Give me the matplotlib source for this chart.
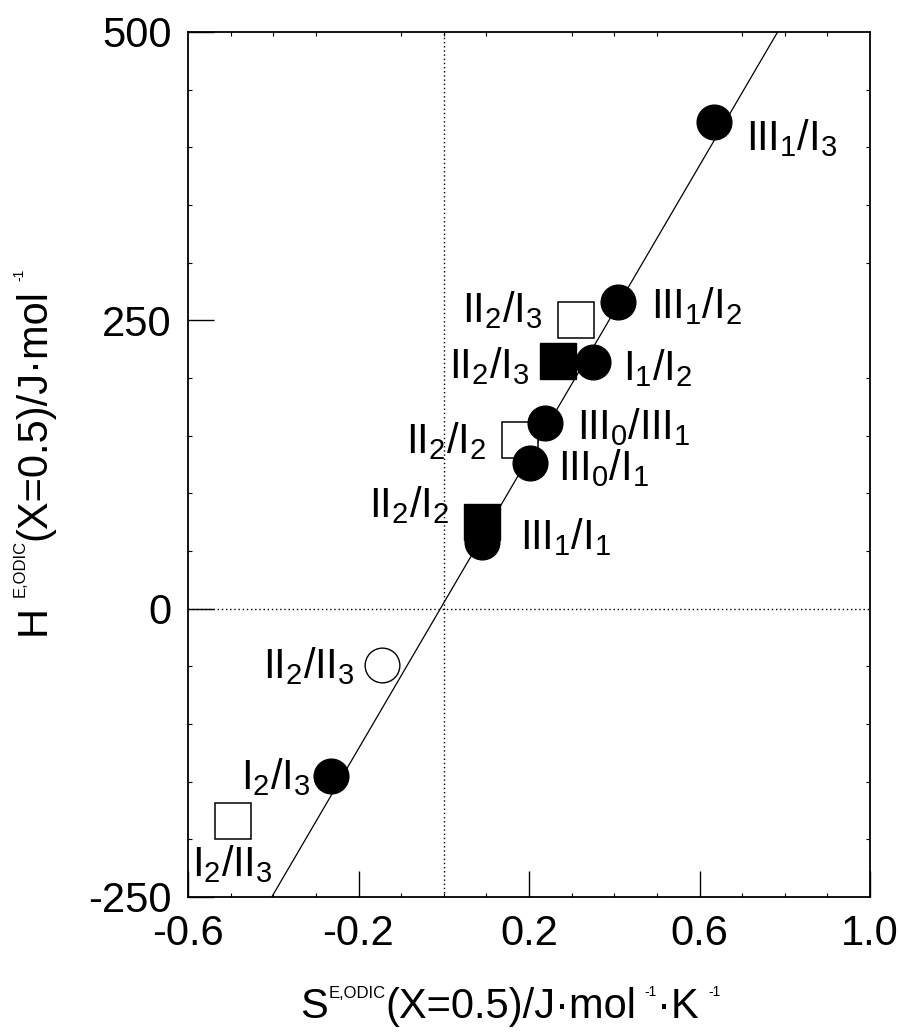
import matplotlib
matplotlib.use('Agg')
import matplotlib.pyplot as plt
from matplotlib.ticker import MultipleLocator
from matplotlib.transforms import IdentityTransform

plt.rcParams['font.family'] = ['Liberation Sans', 'DejaVu Sans']
plt.rcParams['mathtext.fontset'] = 'custom'
plt.rcParams['mathtext.rm'] = 'Liberation Sans'

# Data
fc_labels = [r'III$_\mathregular{1}$/I$_\mathregular{3}$', r'III$_\mathregular{1}$/I$_\mathregular{2}$',
             r'I$_\mathregular{1}$/I$_\mathregular{2}$', r'III$_\mathregular{0}$/III$_\mathregular{1}$',
             r'III$_\mathregular{0}$/I$_\mathregular{1}$', r'III$_\mathregular{1}$/I$_\mathregular{1}$',
             r'I$_\mathregular{2}$/I$_\mathregular{3}$']
fc_x = [0.633, 0.408, 0.350, 0.237, 0.202, 0.089, -0.265]
fc_y = [422, 266, 214, 161, 126, 58, -145]

oc_labels = [r'II$_\mathregular{2}$/II$_\mathregular{3}$']
oc_x = [-0.145]
oc_y = [-49]

os_labels = [r'II$_\mathregular{2}$/I$_\mathregular{3}$', r'II$_\mathregular{2}$/I$_\mathregular{2}$',
             r'I$_\mathregular{2}$/II$_\mathregular{3}$']
os_x = [0.310, 0.178, -0.495]
os_y = [250, 146, -184]

fs_labels = [r'II$_\mathregular{2}$/I$_\mathregular{3}$', r'II$_\mathregular{2}$/I$_\mathregular{2}$']
fs_x = [0.267, 0.089]
fs_y = [215, 75]

fit_slope = 632
fit_intercept = 5

x_ticks = [-0.6, -0.2, 0.2, 0.6, 1.0]
y_ticks = [-250, 0, 250, 500]

# label offsets in pixels (dx, dy, ha)
fc_off = [(32, -28, 'left'), (33, -16, 'left'), (30, -18, 'left'), (32, -16, 'left'),
          (28, -17, 'left'), (38, -7, 'left'), (-20, -13, 'right')]
oc_off = [(-28, -13, 'right')]
os_off = [(-33, -2, 'right'), (-33, -13, 'right'), (0, -55, 'center')]
fs_off = [(-28, -17, 'right'), (-32, 5, 'right')]

W, H = 899, 1032
fig = plt.figure(figsize=(W / 100, H / 100), dpi=100)
ax = fig.add_axes([188 / W, 1 - 897 / H, (870 - 188) / W, (897 - 32) / H])

ax.axvline(0, color='black', ls=(0, (1, 2)), lw=1.0, zorder=1)
ax.axhline(0, color='black', ls=(0, (1, 2)), lw=1.0, zorder=1)

lx = [-0.6, 1.0]
ax.plot(lx, [fit_slope * v + fit_intercept for v in lx], color='black', lw=0.9, zorder=2)

ax.plot(os_x, os_y, 's', ms=26.5, mfc='white', mec='black', mew=1.1, zorder=3)
ax.plot(oc_x, oc_y, 'o', ms=25, mfc='white', mec='black', mew=1.0, zorder=3)
ax.plot(fs_x, fs_y, 's', ms=26, mfc='black', mec='black', zorder=4)
ax.plot(fc_x, fc_y, 'o', ms=25, mfc='black', mec='black', zorder=5)

px2pt = 0.72
for labs, xs, ys, offs in [(fc_labels, fc_x, fc_y, fc_off), (oc_labels, oc_x, oc_y, oc_off),
                           (os_labels, os_x, os_y, os_off), (fs_labels, fs_x, fs_y, fs_off)]:
    for lab, xv, yv, (dx, dy, ha) in zip(labs, xs, ys, offs):
        ax.annotate(lab, xy=(xv, yv), xytext=(dx * px2pt, dy * px2pt), textcoords='offset points',
                    ha=ha, va='baseline', fontsize=30, zorder=6)

ax.set_xlim(-0.6, 1.0)
ax.set_ylim(-250, 500)
ax.set_xticks(x_ticks)
ax.set_xticklabels(['-0.6', '-0.2', '0.2', '0.6', '1.0'])
ax.set_yticks(y_ticks)
ax.set_yticklabels([str(v) for v in y_ticks])
ax.xaxis.set_minor_locator(MultipleLocator(0.1))
ax.yaxis.set_minor_locator(MultipleLocator(50))
ax.tick_params(which='major', direction='in', length=19, width=1.0, labelsize=30)
ax.tick_params(axis='x', which='major', pad=12)
ax.tick_params(axis='y', which='major', pad=12)
ax.tick_params(which='minor', direction='in', length=3, width=0.8, top=True, right=True)
for sp in ax.spines.values():
    sp.set_linewidth(1.3)

# axis titles built piece by piece (small raised superscripts)
renderer = fig.canvas.get_renderer()
ident = IdentityTransform()


def rich_label(pieces, x0, y0, vertical=False):
    pos = x0 if not vertical else y0
    for s, size, rise, gap in pieces:
        if not vertical:
            pos += gap
            t = fig.text(pos, H - y0 + rise, s, fontsize=size, ha='left', va='baseline', transform=ident)
            pos = t.get_window_extent(renderer).x1
        else:
            pos -= gap
            t = fig.text(x0 - rise, H - pos, s, fontsize=size, rotation=90, rotation_mode='anchor',
                         ha='left', va='baseline', transform=ident)
            pos = H - t.get_window_extent(renderer).y1


xlab = [('S', 30, 0, 0), ('E,ODIC', 12, 20, 1), ('(X=0.5)/J\u00b7mol', 30, 0, 0), ('-1', 10, 22, 8),
        ('\u00b7K', 30, 0, 0), ('-1', 10, 22, 10)]
ylab = [('H', 30, 0, 0), ('E,ODIC', 12, 20, 8), ('(X=0.5)/J\u00b7mol', 30, 0, 0), ('-1', 10, 22, 8)]

rich_label(xlab, 300, 1018)
rich_label(ylab, 45, 635, vertical=True)

fig.savefig('out.png', dpi=100)
